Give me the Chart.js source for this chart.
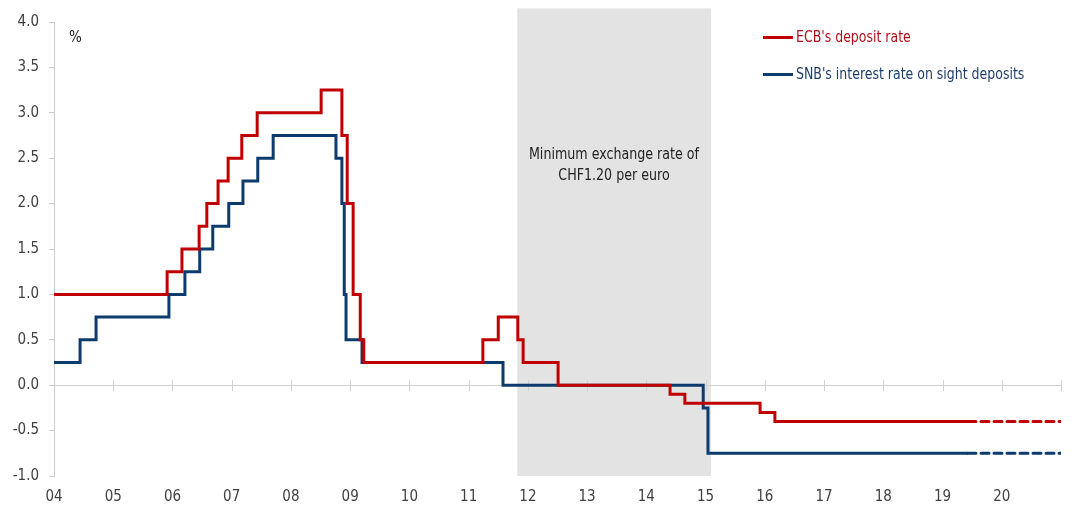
<!DOCTYPE html>
<html>
<head>
<meta charset="utf-8">
<script src="https://cdn.jsdelivr.net/npm/chart.js@4.4.0/dist/chart.umd.min.js"></script>
<style>
  html, body { margin: 0; padding: 0; background: #ffffff; }
  #wrap { position: relative; width: 1074px; height: 506px; overflow: hidden; }
  canvas { position: absolute; left: 0; top: 0; }
  .txt { position: absolute; font-family: "Liberation Sans Narrow", "DejaVu Sans Condensed", "Roboto", sans-serif; white-space: nowrap; }
  .leg { font-size: 16px; line-height: 18px; transform: scaleX(0.87); transform-origin: left center; }
  .legline { position: absolute; height: 3px; width: 30px; }
</style>
</head>
<body>
<div id="wrap">
  <canvas id="c" width="1074" height="506"></canvas>
  <div class="txt" style="left:69px; top:28px; font-size:15px; color:#222;">%</div>
  <div class="legline" style="left:763px; top:36px; background:#C00000;"></div>
  <div class="txt leg" style="left:796px; top:28px; color:#B0101A;">ECB's deposit rate</div>
  <div class="legline" style="left:763px; top:73px; background:#0D3B6E;"></div>
  <div class="txt leg" style="left:796px; top:65px; color:#1F3E6B;">SNB's interest rate on sight deposits</div>
  <div class="txt" id="ann" style="left:517px; width:194px; top:143px; font-size:16px; line-height:21px; color:#222; text-align:center; transform: scaleX(0.88); transform-origin: center center;">Minimum exchange rate of<br>CHF1.20 per euro</div>
</div>
<script>
// ---- Data ----
const yearLabels = ['04','05','06','07','08','09','10','11','12','13','14','15','16','17','18','19','20'];
const firstYear = 2004;
const lastYear = 2021;
const lastObservation = 2019.43;

const ecbDates = [2004.0, 2005.91, 2006.16, 2006.45, 2006.58, 2006.77, 2006.94, 2007.17, 2007.43, 2008.51, 2008.86, 2008.95, 2009.05, 2009.17, 2009.23, 2011.24, 2011.5, 2011.83, 2011.92, 2012.51, 2014.4, 2014.65, 2015.92, 2016.17];
const ecbRates = [1.00, 1.25, 1.50, 1.75, 2.00, 2.25, 2.50, 2.75, 3.00, 3.25, 2.75, 2.00, 1.00, 0.50, 0.25, 0.50, 0.75, 0.50, 0.25, 0.00, -0.10, -0.20, -0.30, -0.40];

const snbDates = [2004.0, 2004.44, 2004.71, 2005.94, 2006.21, 2006.46, 2006.68, 2006.95, 2007.19, 2007.44, 2007.70, 2008.76, 2008.86, 2008.9, 2008.93, 2009.2, 2011.58, 2014.96, 2015.04];
const snbRates = [0.25, 0.50, 0.75, 1.00, 1.25, 1.50, 1.75, 2.00, 2.25, 2.50, 2.75, 2.50, 2.00, 1.00, 0.50, 0.25, 0.00, -0.25, -0.75];

const floorPeriod = [2011.82, 2015.09];   // minimum exchange rate CHF1.20 per euro
const yTicks = [-1.0, -0.5, 0.0, 0.5, 1.0, 1.5, 2.0, 2.5, 3.0, 3.5, 4.0];

// ---- Build datasets ----
function steps(dates, rates) {
  const pts = dates.map((d, i) => ({ x: d, y: rates[i] }));
  pts.push({ x: lastObservation, y: rates[rates.length - 1] });
  return pts;
}
function projection(rates) {
  const v = rates[rates.length - 1];
  return [{ x: lastObservation, y: v }, { x: lastYear, y: v }];
}

const RED = '#C00000';
const BLUE = '#0D3B6E';
const FONT = '"Liberation Sans Narrow", "DejaVu Sans Condensed", Roboto, sans-serif';

const bandPlugin = {
  id: 'band',
  beforeDatasetsDraw(chart) {
    const { ctx, chartArea, scales } = chart;
    const x = scales.x, y = scales.y;
    const x0 = x.getPixelForValue(floorPeriod[0]);
    const x1 = x.getPixelForValue(floorPeriod[1]);
    const top = y.getPixelForValue(4.15);
    const bot = y.getPixelForValue(-1.0);
    ctx.save();
    ctx.fillStyle = '#e3e3e3';
    ctx.fillRect(x0, top, x1 - x0, bot - top);
    // zero axis line with crossing ticks
    const y0 = y.getPixelForValue(0);
    ctx.strokeStyle = '#d0d0d0';
    ctx.lineWidth = 1;
    ctx.beginPath();
    ctx.moveTo(chartArea.left, Math.round(y0) + 0.5);
    ctx.lineTo(chartArea.right, Math.round(y0) + 0.5);
    for (let yr = firstYear + 1; yr <= lastYear; yr++) {
      const px = Math.round(x.getPixelForValue(yr)) + 0.5;
      ctx.moveTo(px, y0 - 5);
      ctx.lineTo(px, y0 + 6);
    }
    ctx.stroke();
    ctx.restore();
  }
};

new Chart(document.getElementById('c'), {
  type: 'line',
  data: {
    datasets: [
      { label: "ECB's deposit rate", data: steps(ecbDates, ecbRates), borderColor: RED, borderWidth: 3, stepped: true, pointRadius: 0, fill: false },
      { label: "SNB's interest rate on sight deposits", data: steps(snbDates, snbRates), borderColor: BLUE, borderWidth: 3, stepped: true, pointRadius: 0, fill: false },
      { label: 'ECB projection', data: projection(ecbRates), borderColor: RED, borderWidth: 3, borderDash: [8, 5], borderCapStyle: 'round', pointRadius: 0, fill: false },
      { label: 'SNB projection', data: projection(snbRates), borderColor: BLUE, borderWidth: 3, borderDash: [8, 5], borderCapStyle: 'round', pointRadius: 0, fill: false }
    ]
  },
  options: {
    responsive: false,
    animation: false,
    devicePixelRatio: 1,
    layout: { padding: { top: 22, right: 13, bottom: 0, left: 0 } },
    plugins: { legend: { display: false }, tooltip: { enabled: false } },
    scales: {
      x: {
        type: 'linear',
        min: firstYear,
        max: lastYear,
        afterFit(s) { s.height = 30; },
        afterBuildTicks(s) {
          s.ticks = [];
          for (let yr = firstYear; yr <= lastYear; yr++) s.ticks.push({ value: yr });
        },
        ticks: {
          autoSkip: false,
          maxRotation: 0,
          padding: 4,
          color: '#404040',
          font: { family: FONT, size: 15 },
          callback: (v) => yearLabels[Math.round(v) - firstYear] ?? ''
        },
        grid: { display: false },
        border: { display: false }
      },
      y: {
        min: -1,
        max: 4,
        afterFit(s) { s.width = 54; },
        afterBuildTicks(s) { s.ticks = yTicks.map(v => ({ value: v })); },
        ticks: {
          padding: 10,
          color: '#404040',
          font: { family: FONT, size: 15 },
          callback: (v) => Number(v).toFixed(1)
        },
        grid: { drawOnChartArea: false, tickLength: 5, color: '#cccccc' },
        border: { display: true, color: '#cccccc' }
      }
    }
  },
  plugins: [bandPlugin]
});
</script>
</body>
</html>
